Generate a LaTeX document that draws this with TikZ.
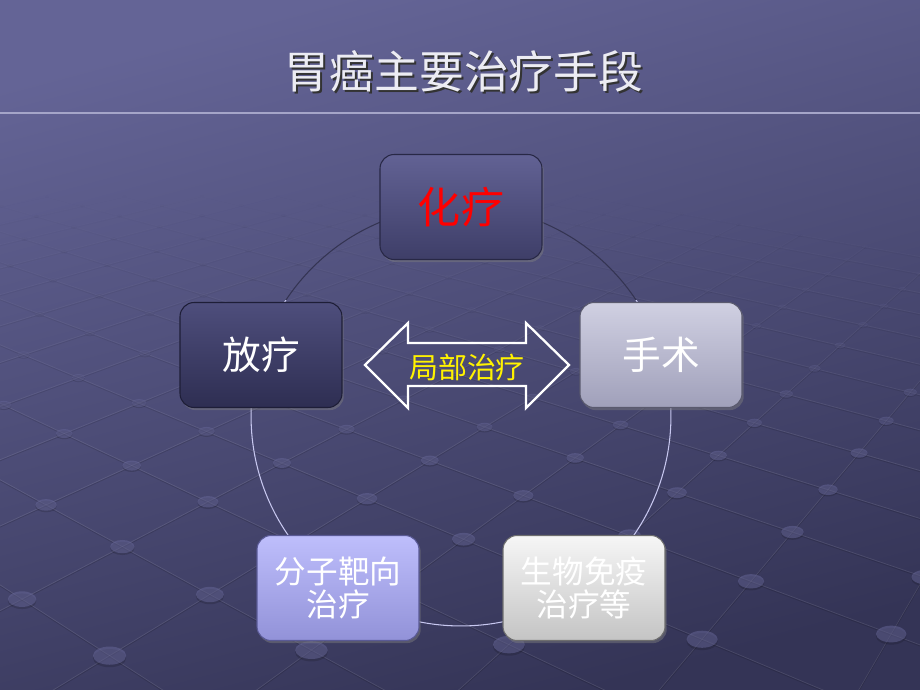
\documentclass[tikz,border=0pt]{standalone}
\usepackage{fontspec}
\newfontfamily\cjk{Noto Sans CJK SC}
\usetikzlibrary{shadows}
\definecolor{bgtop}{RGB}{100,100,150}
\definecolor{bgbot}{RGB}{52,52,86}
\definecolor{rule}{RGB}{165,165,200}
\definecolor{ring}{RGB}{200,200,240}
\definecolor{ringdark}{RGB}{52,52,82}
\definecolor{knob}{RGB}{104,104,154}
\definecolor{chemoT}{RGB}{98,98,148}   \definecolor{chemoB}{RGB}{62,62,104}  \definecolor{chemoE}{RGB}{40,40,70}
\definecolor{radioT}{RGB}{78,78,124}   \definecolor{radioB}{RGB}{46,46,82}   \definecolor{radioE}{RGB}{30,30,55}
\definecolor{surgT}{RGB}{208,208,226}  \definecolor{surgB}{RGB}{160,160,186} \definecolor{surgE}{RGB}{90,90,110}
\definecolor{targT}{RGB}{190,190,252}  \definecolor{targB}{RGB}{146,146,216} \definecolor{targE}{RGB}{90,90,150}
\definecolor{immT}{RGB}{246,246,246}   \definecolor{immB}{RGB}{196,196,196}  \definecolor{immE}{RGB}{110,110,110}
% perspective grid point (i,j) -> \gx,\gy,\gw
\newcommand\gridpt[2]{%
	\pgfmathsetmacro\gw{1-0.0596*(#1)-0.0678*(#2)}%
	\pgfmathsetmacro\gs{max(\gw,0.3)}%
	\pgfmathsetmacro\gx{(63.18*(#1)-88.14*(#2)+282)/\gs}%
	\pgfmathsetmacro\gy{(5.96*(#1)+4.746*(#2)+463)/\gs}}
\begin{document}
\begin{tikzpicture}[x=0.02cm,y=-0.02cm,line join=round,font=\cjk,
	box/.style={rounded corners=8pt,draw=#1E,top color=#1T,bottom color=#1B,line width=0.6pt,
		minimum width=3.24cm,minimum height=2.1cm,align=center,
		drop shadow={opacity=0.45,shadow xshift=1pt,shadow yshift=-1.5pt}},
	big/.style={font=\cjk\fontsize{22}{26}\selectfont},
	small/.style={font=\cjk\fontsize{18}{19}\selectfont}]
	% background
	\fill[top color=bgtop,bottom color=bgbot,shading angle=15] (0,0) rectangle (920,690);
	\useasboundingbox (0,0) rectangle (920,690);
	% grid of studs
	\begin{scope}
		\clip (0,0) rectangle (920,690);
		\foreach \i in {-12,...,10}{
			\foreach \j in {-12,...,10}{
				\gridpt{\i}{\j}
				\ifdim\gw pt>0.5pt \ifdim\gw pt<2.4pt
					\pgfmathsetmacro\op{max(0,min(1,(\gy-190)/260))}
					\let\ax\gx \let\ay\gy
					\gridpt{\i+1}{\j}
					\draw[white,opacity=0.1*\op,line width=0.4pt] (\ax,\ay) -- (\gx,\gy);
					\draw[black,opacity=0.15*\op,line width=0.4pt] (\ax,\ay+1.2) -- (\gx,\gy+1.2);
					\gridpt{\i}{\j+1}
					\draw[white,opacity=0.1*\op,line width=0.4pt] (\ax,\ay) -- (\gx,\gy);
					\draw[black,opacity=0.15*\op,line width=0.4pt] (\ax,\ay+1.2) -- (\gx,\gy+1.2);
				\fi\fi}}
		\foreach \i in {-12,...,10}{
			\foreach \j in {-12,...,10}{
				\gridpt{\i}{\j}
				\ifdim\gw pt>0.5pt \ifdim\gw pt<2.4pt
					\pgfmathsetmacro\op{max(0,min(1,(\gy-190)/260))}
					\pgfmathsetmacro\rx{9/(\gw*\gw)}
					\fill[black,opacity=0.15*\op] (\gx,\gy+0.15*\rx) ellipse ({\rx*0.02cm} and {\rx*0.011cm});
					\fill[knob,opacity=0.5*\op] (\gx,\gy) ellipse ({\rx*0.02cm} and {\rx*0.011cm});
				\fi\fi}}
	\end{scope}
	% title and rule
	\node[text=black!80,font=\cjk\fontsize{25.5}{30}\selectfont] at (466,73) {胃癌主要治疗手段};
	\node (title) [text=white!88!bgtop,font=\cjk\fontsize{25.5}{30}\selectfont] at (464,71) {胃癌主要治疗手段};
	\draw[rule,line width=1.6pt] (0,113) -- (920,113);
	% ring
	\coordinate (ctr) at (461,416);
	\begin{scope}
		\clip (0,120) rectangle (920,300);
		\draw[ringdark,line width=0.6pt] (ctr) circle (4.2cm);
	\end{scope}
	\begin{scope}
		\clip (0,300) rectangle (920,690);
		\draw[ring,line width=0.6pt] (ctr) circle (4.2cm);
	\end{scope}
	% boxes
	\node (chemo) [box=chemo,font=\cjk\fontsize{24.5}{28}\selectfont,text=red] at (461,207) {化疗};
	\node (radio) [box=radio,big,text=white] at (261,355) {放疗};
	\node (surg) [box=surg,big,text=white] at (661,355) {手术};
	\node (target) [box=targ,small,text=white] at (338,588) {分子靶向\\治疗};
	\node (immune) [box=imm,small,text=white] at (584,588) {生物免疫\\治疗等};
	% local treatment arrow
	\draw[white,line width=1.3pt,line join=miter] (365,365) -- (408,323) -- (408,343) -- (526,343) -- (526,323)
		-- (569,365) -- (526,408) -- (526,386) -- (408,386) -- (408,408) -- cycle;
	\node (local) [text=yellow,font=\cjk\fontsize{16.5}{18}\selectfont] at (467,367) {局部治疗};
\end{tikzpicture}
\end{document}
